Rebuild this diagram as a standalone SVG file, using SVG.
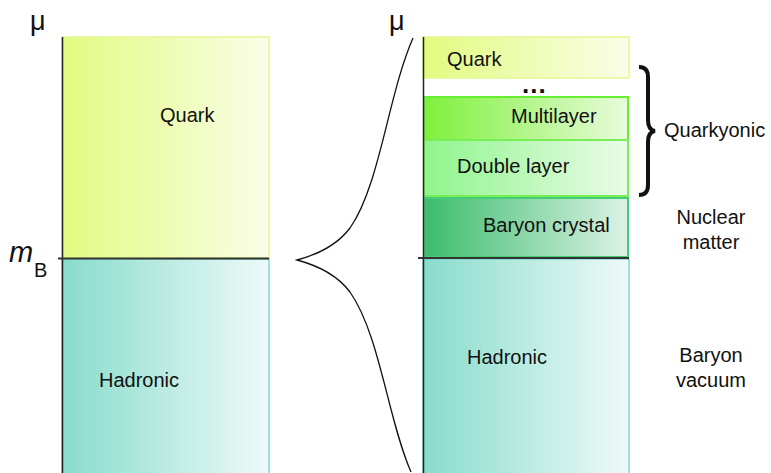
<svg xmlns="http://www.w3.org/2000/svg" width="771" height="473" viewBox="0 0 771 473">
<defs>
<linearGradient id="gQuark" x1="0" y1="0" x2="1" y2="0"><stop offset="0" stop-color="#e2fb80"/><stop offset="1" stop-color="#fafde8"/></linearGradient>
<linearGradient id="gHad" x1="0" y1="0" x2="1" y2="0"><stop offset="0" stop-color="#88dccb"/><stop offset="1" stop-color="#eefaf9"/></linearGradient>
<linearGradient id="gMulti" x1="0" y1="0" x2="1" y2="0"><stop offset="0" stop-color="#7ef03a"/><stop offset="1" stop-color="#e8fbdc"/></linearGradient>
<linearGradient id="gDouble" x1="0" y1="0" x2="1" y2="0"><stop offset="0" stop-color="#8ef58c"/><stop offset="1" stop-color="#eafbe8"/></linearGradient>
<linearGradient id="gCrystal" x1="0" y1="0" x2="1" y2="0"><stop offset="0" stop-color="#3cbc6c"/><stop offset="1" stop-color="#dcf2e6"/></linearGradient>
</defs>
<style>
text{font-family:"Liberation Sans",Arial,sans-serif;font-size:20px;fill:#111}
.axis{stroke:#222;stroke-width:1.5;fill:none}
.bound{stroke:#333;stroke-width:2;fill:none}
.q{fill:url(#gQuark);stroke:#e4f890;stroke-width:1.5}
.h{fill:url(#gHad);stroke:#80d8c8;stroke-width:1.5}
.c{text-anchor:middle}
</style>

<g id="left-quark"><rect class="q" x="62" y="37" width="207" height="221"/><text x="160" y="122">Quark</text></g>
<g id="left-hadronic"><rect class="h" x="62" y="259" width="207" height="216"/><text x="99" y="387">Hadronic</text></g>

<g id="right-quark"><rect class="q" x="423" y="37" width="206" height="41"/><text x="447" y="66">Quark</text></g>
<text x="522" y="93" style="font-size:26px;font-weight:bold;letter-spacing:1px">...</text>
<g id="right-multilayer"><rect x="424" y="97" width="204" height="43" fill="url(#gMulti)" stroke="#66ee33" stroke-width="2"/><text x="511" y="123">Multilayer</text></g>
<g id="right-double"><rect x="424" y="140" width="204" height="56" fill="url(#gDouble)" stroke="#77ee55" stroke-width="2"/><text x="457" y="173">Double layer</text></g>
<g id="right-crystal"><rect x="424" y="198" width="204" height="59" fill="url(#gCrystal)" stroke="#44cc77" stroke-width="2"/><text x="483" y="232">Baryon crystal</text></g>
<g id="right-hadronic"><rect class="h" x="423" y="259" width="206" height="216"/><text x="467" y="364">Hadronic</text></g>

<g id="axes">
<line class="axis" x1="62.5" y1="37" x2="62.5" y2="473"/>
<line class="bound" x1="58" y1="258.5" x2="269" y2="258.5"/>
<line class="axis" x1="423.5" y1="37" x2="423.5" y2="473"/>
<line class="bound" x1="418" y1="258" x2="629" y2="258"/>
</g>

<g id="connectors">
<path d="M413,38 C388,95 380,185 350,228 C335,248 312,256 297,260 C312,264 335,272 350,292 C380,335 388,420 411,472" fill="none" stroke="#111" stroke-width="1.3"/>
<path d="M639,67 Q648,67 648,77 L648,120 Q648,130 655,131 Q648,132 648,142 L648,185 Q648,195 639,195" fill="none" stroke="#111" stroke-width="4"/>
</g>

<text x="30" y="30" style="font-size:27px">μ</text>
<text x="389" y="30" style="font-size:27px">μ</text>
<text x="9" y="262" style="font-size:29px;font-style:italic">m</text>
<text x="34" y="277">B</text>

<text x="664" y="137">Quarkyonic</text>
<text class="c" x="711" y="224">Nuclear</text>
<text class="c" x="711" y="249">matter</text>
<text class="c" x="711" y="362">Baryon</text>
<text class="c" x="711" y="387">vacuum</text>
</svg>
